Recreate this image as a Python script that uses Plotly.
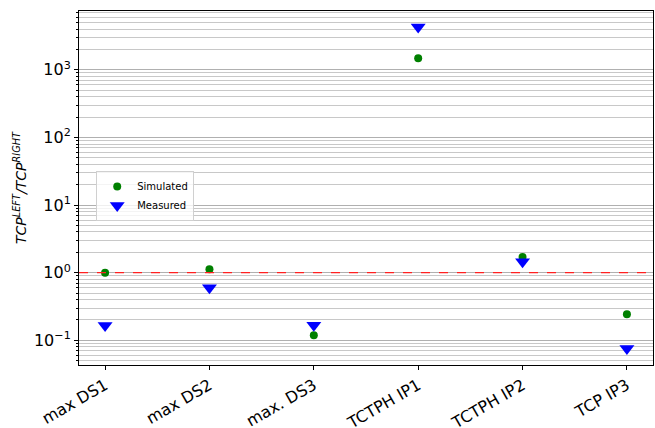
import plotly.graph_objects as go

categories = ["max DS1", "max DS2", "max. DS3", "TCTPH IP1", "TCTPH IP2", "TCP IP3"]
simulated = [1.0, 1.12, 0.119, 1480, 1.7, 0.243]
measured = [0.165, 0.60, 0.167, 4300, 1.45, 0.076]
ytick_vals = [0.1, 1, 10, 100, 1000]
ytick_text = ["10<sup>−1</sup>", "10<sup>0</sup>", "10<sup>1</sup>", "10<sup>2</sup>", "10<sup>3</sup>"]

xpos = list(range(len(categories)))

fig = go.Figure()
fig.add_trace(go.Scatter(x=xpos, y=simulated, mode="markers", name="Simulated",
                         marker=dict(symbol="circle", size=8, color="#008000")))
fig.add_trace(go.Scatter(x=xpos, y=measured, mode="markers", name="Measured",
                         marker=dict(symbol="triangle-down", size=13, color="#0000ff")))
fig.add_hline(y=1, line=dict(color="#ff2020", width=1.2, dash="dash"))

fig.update_layout(
    width=655, height=428,
    margin=dict(l=79, r=2, t=11, b=63),
    paper_bgcolor="white", plot_bgcolor="white",
    font=dict(family="DejaVu Sans", color="black"),
    showlegend=True,
    legend=dict(x=0.03, y=0.548, xanchor="left", yanchor="top",
                bgcolor="rgba(255,255,255,0.8)", bordercolor="#d0d0d0", borderwidth=1,
                font=dict(size=10), itemwidth=30, tracegroupgap=0),
)
fig.update_xaxes(
    range=[-0.25, 5.25], tickvals=xpos, ticktext=categories, tickangle=-30,
    tickfont=dict(size=16), showgrid=False, zeroline=False, automargin=False,
    showline=True, linecolor="black", linewidth=1, mirror=True,
    ticks="outside", ticklen=4, tickcolor="black",
)
fig.update_yaxes(
    type="log", range=[-1.365, 3.87], automargin=False,
    tickvals=ytick_vals, ticktext=ytick_text, tickfont=dict(size=16),
    showgrid=True, gridcolor="#b0b0b0", gridwidth=1,
    showline=True, linecolor="black", linewidth=1, mirror=True,
    ticks="outside", ticklen=4, tickcolor="black",
    minor=dict(dtick="D1", showgrid=True, gridcolor="#c8c8c8", gridwidth=1,
               ticks="outside", ticklen=2, tickcolor="black"),
    title=dict(text="<i>TCP<sup>LEFT</sup>/TCP<sup>RIGHT</sup></i>", font=dict(size=14), standoff=4),
)

fig.write_html("out.html", config={"displayModeBar": False},
               post_script="document.body.style.margin='0';document.body.style.overflow='hidden';")
